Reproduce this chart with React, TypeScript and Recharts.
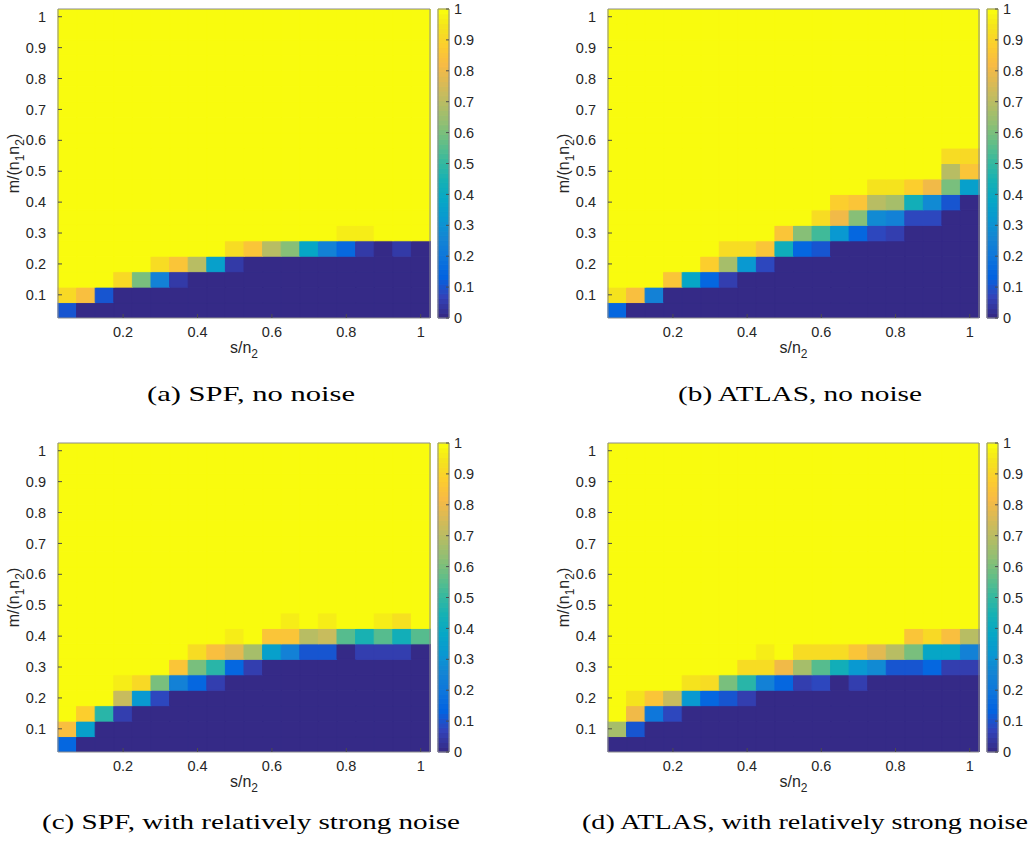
import { BarChart, Bar, XAxis, YAxis, Cell } from "recharts";

// grid of the phase-transition diagrams (cell centres)
const S_VALUES = [0.05, 0.1, 0.15, 0.2, 0.25, 0.3, 0.35, 0.4, 0.45, 0.5, 0.55, 0.6, 0.65, 0.7, 0.75, 0.8, 0.85, 0.9, 0.95, 1];
const M_VALUES = [0.05, 0.1, 0.15, 0.2, 0.25, 0.3, 0.35, 0.4, 0.45, 0.5, 0.55, 0.6, 0.65, 0.7, 0.75, 0.8, 0.85, 0.9, 0.95, 1];

const S_TICKS = [0.2, 0.4, 0.6, 0.8, 1];
const M_TICKS = [0.1, 0.2, 0.3, 0.4, 0.5, 0.6, 0.7, 0.8, 0.9, 1];
const CB_TICKS = [0, 0.1, 0.2, 0.3, 0.4, 0.5, 0.6, 0.7, 0.8, 0.9, 1];

const ONES = [1, 1, 1, 1, 1, 1, 1, 1, 1, 1, 1, 1, 1, 1, 1, 1, 1, 1, 1, 1];

// success rates, rows from m = 0.05 (bottom) up to m = 1 (top)
const SPF_CLEAN = [
  [0.1, 0, 0, 0, 0, 0, 0, 0, 0, 0, 0, 0, 0, 0, 0, 0, 0, 0, 0, 0],
  [0.92, 0.84, 0.1, 0, 0, 0, 0, 0, 0, 0, 0, 0, 0, 0, 0, 0, 0, 0, 0, 0],
  [1, 1, 1, 0.92, 0.6, 0.24, 0.04, 0, 0, 0, 0, 0, 0, 0, 0, 0, 0, 0, 0, 0],
  [1, 1, 1, 1, 1, 0.93, 0.86, 0.7, 0.35, 0.04, 0, 0, 0, 0, 0, 0, 0, 0, 0, 0],
  [1, 1, 1, 1, 1, 1, 1, 1, 1, 0.93, 0.86, 0.7, 0.62, 0.38, 0.24, 0.15, 0.04, 0, 0.04, 0],
  [1, 1, 1, 1, 1, 1, 1, 1, 1, 1, 1, 1, 1, 1, 1, 0.97, 0.97, 1, 1, 1],
  ONES, ONES, ONES, ONES, ONES, ONES, ONES,
  ONES, ONES, ONES, ONES, ONES, ONES, ONES,
];

const ATLAS_CLEAN = [
  [0.14, 0, 0, 0, 0, 0, 0, 0, 0, 0, 0, 0, 0, 0, 0, 0, 0, 0, 0, 0],
  [0.95, 0.84, 0.24, 0, 0, 0, 0, 0, 0, 0, 0, 0, 0, 0, 0, 0, 0, 0, 0, 0],
  [1, 1, 1, 0.86, 0.38, 0.14, 0.05, 0, 0, 0, 0, 0, 0, 0, 0, 0, 0, 0, 0, 0],
  [1, 1, 1, 1, 1, 0.89, 0.67, 0.32, 0.07, 0, 0, 0, 0, 0, 0, 0, 0, 0, 0, 0],
  [1, 1, 1, 1, 1, 1, 0.93, 0.93, 0.86, 0.42, 0.14, 0.1, 0, 0, 0, 0, 0, 0, 0, 0],
  [1, 1, 1, 1, 1, 1, 1, 1, 1, 0.86, 0.62, 0.52, 0.32, 0.14, 0.07, 0.05, 0, 0, 0, 0],
  [1, 1, 1, 1, 1, 1, 1, 1, 1, 1, 1, 0.93, 0.81, 0.62, 0.27, 0.24, 0.07, 0.07, 0, 0],
  [1, 1, 1, 1, 1, 1, 1, 1, 1, 1, 1, 1, 0.89, 0.86, 0.7, 0.67, 0.43, 0.27, 0.1, 0],
  [1, 1, 1, 1, 1, 1, 1, 1, 1, 1, 1, 1, 1, 1, 0.95, 0.95, 0.89, 0.81, 0.6, 0.35],
  [1, 1, 1, 1, 1, 1, 1, 1, 1, 1, 1, 1, 1, 1, 1, 1, 1, 1, 0.7, 0.86],
  [1, 1, 1, 1, 1, 1, 1, 1, 1, 1, 1, 1, 1, 1, 1, 1, 1, 1, 0.93, 0.92],
  ONES, ONES, ONES, ONES, ONES, ONES, ONES, ONES, ONES,
];

const SPF_NOISY = [
  [0.14, 0, 0, 0, 0, 0, 0, 0, 0, 0, 0, 0, 0, 0, 0, 0, 0, 0, 0, 0],
  [0.84, 0.35, 0, 0, 0, 0, 0, 0, 0, 0, 0, 0, 0, 0, 0, 0, 0, 0, 0, 0],
  [1, 0.89, 0.48, 0.05, 0, 0, 0, 0, 0, 0, 0, 0, 0, 0, 0, 0, 0, 0, 0, 0],
  [1, 1, 1, 0.73, 0.32, 0.07, 0, 0, 0, 0, 0, 0, 0, 0, 0, 0, 0, 0, 0, 0],
  [1, 1, 1, 0.97, 0.92, 0.6, 0.24, 0.14, 0.05, 0, 0, 0, 0, 0, 0, 0, 0, 0, 0, 0],
  [1, 1, 1, 1, 1, 1, 0.86, 0.6, 0.48, 0.14, 0.05, 0, 0, 0, 0, 0, 0, 0, 0, 0],
  [1, 1, 1, 1, 1, 1, 1, 0.93, 0.84, 0.78, 0.67, 0.35, 0.24, 0.1, 0.1, 0, 0.05, 0.05, 0.05, 0],
  [1, 1, 1, 1, 1, 1, 1, 1, 1, 0.97, 1, 0.86, 0.86, 0.7, 0.73, 0.55, 0.45, 0.55, 0.43, 0.55],
  [1, 1, 1, 1, 1, 1, 1, 1, 1, 1, 1, 1, 0.97, 1, 0.97, 1, 1, 0.97, 0.94, 1],
  ONES, ONES, ONES, ONES, ONES, ONES, ONES, ONES, ONES, ONES, ONES,
];

const ATLAS_NOISY = [
  [0, 0, 0, 0, 0, 0, 0, 0, 0, 0, 0, 0, 0, 0, 0, 0, 0, 0, 0, 0],
  [0.67, 0.1, 0, 0, 0, 0, 0, 0, 0, 0, 0, 0, 0, 0, 0, 0, 0, 0, 0, 0],
  [1, 0.81, 0.2, 0.07, 0, 0, 0, 0, 0, 0, 0, 0, 0, 0, 0, 0, 0, 0, 0, 0],
  [1, 0.95, 0.86, 0.73, 0.32, 0.14, 0.1, 0.05, 0, 0, 0, 0, 0, 0, 0, 0, 0, 0, 0, 0],
  [1, 1, 1, 1, 0.95, 0.93, 0.6, 0.48, 0.24, 0.14, 0.05, 0.07, 0, 0.05, 0, 0, 0, 0, 0, 0],
  [1, 1, 1, 1, 1, 1, 1, 0.93, 0.93, 0.81, 0.67, 0.55, 0.43, 0.32, 0.27, 0.1, 0.1, 0.14, 0.05, 0.05],
  [1, 1, 1, 1, 1, 1, 1, 1, 0.97, 1, 0.93, 0.93, 0.93, 0.86, 0.78, 0.7, 0.6, 0.38, 0.38, 0.24],
  [1, 1, 1, 1, 1, 1, 1, 1, 1, 1, 1, 1, 1, 1, 1, 1, 0.86, 0.92, 0.84, 0.7],
  ONES, ONES, ONES, ONES, ONES, ONES, ONES, ONES, ONES, ONES, ONES, ONES,
];

const CAPTIONS = [
  "(a) SPF, no noise",
  "(b) ATLAS, no noise",
  "(c) SPF, with relatively strong noise",
  "(d) ATLAS, with relatively strong noise",
];

// parula (MATLAB), sampled every 4th of the 64 levels
const PARULA: [number, number, number, number][] = [
  [0, 0.2081, 0.1663, 0.5292],
  [4, 0.1959, 0.2645, 0.7279],
  [8, 0.0117, 0.3875, 0.882],
  [12, 0.0498, 0.4586, 0.8641],
  [16, 0.0793, 0.52, 0.8312],
  [20, 0.0343, 0.5966, 0.8199],
  [24, 0.0228, 0.6535, 0.7768],
  [28, 0.0843, 0.6928, 0.7062],
  [32, 0.2178, 0.725, 0.6193],
  [36, 0.3953, 0.7459, 0.5244],
  [40, 0.5709, 0.7485, 0.4494],
  [44, 0.7184, 0.7411, 0.3905],
  [48, 0.8507, 0.7299, 0.336],
  [52, 0.9739, 0.7314, 0.2666],
  [56, 0.988, 0.8066, 0.1794],
  [60, 0.9589, 0.8949, 0.1132],
  [63, 0.9763, 0.9831, 0.0538],
];

function parula(v: number) {
  const t = Math.max(0, Math.min(1, v)) * 63;
  let k = 0;
  while (k < PARULA.length - 2 && PARULA[k + 1][0] < t) k++;
  const a = PARULA[k];
  const b = PARULA[k + 1];
  const f = (t - a[0]) / (b[0] - a[0]);
  const ch = (i: number) => Math.round(255 * (a[i] + (b[i] - a[i]) * f));
  return `rgb(${ch(1)},${ch(2)},${ch(3)})`;
}

const SANS = "'Liberation Sans', Arial, Helvetica, sans-serif";
const SERIF = "'Liberation Serif', 'Times New Roman', serif";
const INK = "#262626";
const FRAME = { stroke: "#8c8c8c", strokeWidth: 1 };
const TICK_LINE = { stroke: "#4d4d4d", strokeWidth: 1 };
const TICK_TEXT = { fontSize: 14.5, fill: INK, fontFamily: SANS };

const STEP = M_VALUES[1] - M_VALUES[0];
const Y_DOMAIN: [number, number] = [M_VALUES[0] - STEP / 2, M_VALUES[M_VALUES.length - 1] + STEP / 2];
const ROW_KEYS = M_VALUES.map((_, j) => `r${j}`);

// one stacked column per s value, one segment per m row
const TABLE = S_VALUES.map((s) => {
  const row: Record<string, number> = { s, base: Y_DOMAIN[0] };
  ROW_KEYS.forEach((k) => {
    row[k] = STEP;
  });
  return row;
});

const CB_LEVELS = 64;
const CB_KEYS = Array.from({ length: CB_LEVELS }, (_, i) => `c${i}`);
const CB_TABLE = [
  CB_KEYS.reduce<Record<string, number | string>>((acc, k) => {
    acc[k] = 1 / CB_LEVELS;
    return acc;
  }, { k: "cb" }),
];

const XTitle = (props: any) => {
  const { x, y, width } = props.viewBox;
  return (
    <text x={x + width / 2} y={y + 35} textAnchor="middle" fontSize={16} fill={INK} fontFamily={SANS}>
      s/n
      <tspan fontSize={12} dy={5}>2</tspan>
    </text>
  );
};

const YTitle = (props: any) => {
  const { y, height } = props.viewBox;
  const cx = 19;
  const cy = y + height / 2;
  return (
    <text
      x={cx}
      y={cy}
      transform={`rotate(-90, ${cx}, ${cy})`}
      textAnchor="middle"
      fontSize={16}
      fill={INK}
      fontFamily={SANS}
    >
      m/(n
      <tspan fontSize={12} dy={5}>1</tspan>
      <tspan dy={-5}>n</tspan>
      <tspan fontSize={12} dy={5}>2</tspan>
      <tspan dy={-5}>)</tspan>
    </text>
  );
};

function Heatmap({ grid, left, top, plotWidth }: { grid: number[][]; left: number; top: number; plotWidth: number }) {
  const width = 58 + plotWidth + 10 + 30;
  return (
    <div style={{ position: "absolute", left, top }}>
      <BarChart
        width={width}
        height={370}
        data={TABLE}
        margin={{ top: 8, right: 30, bottom: 0, left: 0 }}
        barCategoryGap={0}
        barGap={0}
      >
        <Bar xAxisId="b" yAxisId="l" dataKey="base" stackId="cells" fill="none" isAnimationActive={false} />
        {ROW_KEYS.map((key, j) => (
          <Bar key={key} xAxisId="b" yAxisId="l" dataKey={key} stackId="cells" isAnimationActive={false}>
            {S_VALUES.map((_, i) => {
              const c = parula(grid[j][i]);
              return <Cell key={i} fill={c} stroke={c} strokeWidth={1} />;
            })}
          </Bar>
        ))}
        <XAxis
          xAxisId="b"
          dataKey="s"
          type="category"
          ticks={S_TICKS}
          interval={0}
          height={52}
          tickSize={-4}
          tickMargin={13}
          axisLine={FRAME}
          tickLine={TICK_LINE}
          tick={TICK_TEXT}
          label={{ content: XTitle }}
        />
        <XAxis
          xAxisId="t"
          orientation="top"
          dataKey="s"
          type="category"
          ticks={S_TICKS}
          interval={0}
          height={1}
          tickSize={-4}
          axisLine={FRAME}
          tickLine={TICK_LINE}
          tick={false}
        />
        <YAxis
          yAxisId="l"
          type="number"
          domain={Y_DOMAIN}
          allowDataOverflow
          ticks={M_TICKS}
          interval={0}
          width={58}
          tickSize={-4}
          tickMargin={16}
          axisLine={FRAME}
          tickLine={TICK_LINE}
          tick={TICK_TEXT}
          label={{ content: YTitle }}
        />
        <YAxis
          yAxisId="r"
          orientation="right"
          type="number"
          domain={Y_DOMAIN}
          allowDataOverflow
          ticks={M_TICKS}
          interval={0}
          width={10}
          tickSize={-4}
          axisLine={FRAME}
          tickLine={TICK_LINE}
          tick={false}
        />
      </BarChart>
    </div>
  );
}

function Colorbar({ left, top, width }: { left: number; top: number; width: number }) {
  return (
    <div style={{ position: "absolute", left, top }}>
      <BarChart
        width={width}
        height={330}
        data={CB_TABLE}
        margin={{ top: 8, right: 0, bottom: 0, left: 0 }}
        barCategoryGap={0}
        barGap={0}
      >
        {CB_KEYS.map((key, i) => {
          const c = parula(i / (CB_LEVELS - 1));
          return (
            <Bar
              key={key}
              xAxisId="b"
              yAxisId="r"
              dataKey={key}
              stackId="cb"
              fill={c}
              stroke={c}
              strokeWidth={1}
              isAnimationActive={false}
            />
          );
        })}
        <XAxis xAxisId="b" dataKey="k" height={12} tick={false} tickLine={false} axisLine={FRAME} />
        <XAxis xAxisId="t" orientation="top" dataKey="k" height={1} tick={false} tickLine={false} axisLine={FRAME} />
        <YAxis yAxisId="l" type="number" domain={[0, 1]} width={1} tick={false} tickLine={false} axisLine={FRAME} />
        <YAxis
          yAxisId="r"
          orientation="right"
          type="number"
          domain={[0, 1]}
          ticks={CB_TICKS}
          interval={0}
          width={width - 12}
          tickSize={-3}
          tickMargin={8}
          axisLine={FRAME}
          tickLine={TICK_LINE}
          tick={TICK_TEXT}
        />
      </BarChart>
    </div>
  );
}

const CAPTION_BOXES = [
  { x0: 147, x1: 355, y: 401 },
  { x0: 678, x1: 922, y: 401 },
  { x0: 42, x1: 460, y: 829 },
  { x0: 582, x1: 1028, y: 829 },
];

export default function App() {
  return (
    <div
      style={{
        position: "absolute",
        left: 0,
        top: 0,
        width: 1035,
        height: 848,
        overflow: "hidden",
        background: "#ffffff",
      }}
    >
      <Heatmap grid={SPF_CLEAN} left={0} top={0} plotWidth={372} />
      <Colorbar left={437} top={0} width={60} />
      <Heatmap grid={ATLAS_CLEAN} left={550} top={0} plotWidth={371} />
      <Colorbar left={986} top={0} width={49} />
      <Heatmap grid={SPF_NOISY} left={0} top={434} plotWidth={372} />
      <Colorbar left={437} top={434} width={60} />
      <Heatmap grid={ATLAS_NOISY} left={550} top={434} plotWidth={371} />
      <Colorbar left={986} top={434} width={49} />
      <svg width={1035} height={848} style={{ position: "absolute", left: 0, top: 0, pointerEvents: "none" }}>
        {CAPTIONS.map((text, i) => {
          const b = CAPTION_BOXES[i];
          return (
            <text
              key={text}
              x={b.x0}
              y={b.y}
              textLength={b.x1 - b.x0}
              lengthAdjust="spacingAndGlyphs"
              fontSize={21}
              fill="#000"
              fontFamily={SERIF}
            >
              {text}
            </text>
          );
        })}
      </svg>
    </div>
  );
}
